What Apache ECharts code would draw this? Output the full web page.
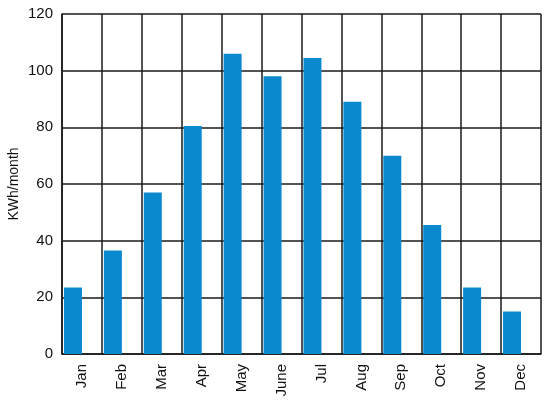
<!DOCTYPE html>
<html>
<head>
<meta charset="utf-8">
<script src="https://cdn.jsdelivr.net/npm/echarts@6/dist/echarts.min.js"></script>
<style>
  html, body { margin: 0; padding: 0; background: #fff; }
  #chart { width: 550px; height: 408px; }
</style>
</head>
<body>
<div id="chart"></div>
<script>
const months = ['Jan', 'Feb', 'Mar', 'Apr', 'May', 'June', 'Jul', 'Aug', 'Sep', 'Oct', 'Nov', 'Dec']
const energy = [23.5, 36.5, 57, 80.5, 106, 98, 104.5, 89, 70, 45.5, 23.5, 15]
const yTicks = [0, 20, 40, 60, 80, 100, 120]

const lineStyle = { color: '#1a1a1a', width: 1.5 }
const font = 'Liberation Sans, Arial, sans-serif'

const chart = echarts.init(document.getElementById('chart'))
chart.setOption({
  animation: false,
  grid: { left: 62, right: 9, top: 14, bottom: 54, containLabel: false, outerBoundsMode: 'none' },
  xAxis: {
    type: 'category',
    data: months,
    axisLine: { lineStyle },
    axisTick: { show: false },
    splitLine: { show: true, lineStyle },
    axisLabel: { rotate: 90, color: '#111', fontSize: 15, fontFamily: font, margin: 10 }
  },
  yAxis: {
    type: 'value',
    min: yTicks[0],
    max: yTicks[yTicks.length - 1],
    interval: 20,
    name: 'KWh/month',
    nameLocation: 'middle',
    nameGap: 41,
    nameMoveOverlap: false,
    nameTextStyle: { color: '#111', fontSize: 14, fontFamily: font },
    axisLine: { show: true, lineStyle },
    axisTick: { show: false },
    splitLine: { lineStyle },
    axisLabel: { color: '#111', fontSize: 15, fontFamily: font, margin: 9 }
  },
  series: [
    {
      type: 'bar',
      data: energy,
      barWidth: 18,
      barGap: '0%',
      itemStyle: { color: '#0b89cf' }
    },
    {
      type: 'bar',
      data: energy.map(() => 0),
      barWidth: 18,
      silent: true,
      itemStyle: { color: 'transparent' }
    }
  ]
})
</script>
</body>
</html>
